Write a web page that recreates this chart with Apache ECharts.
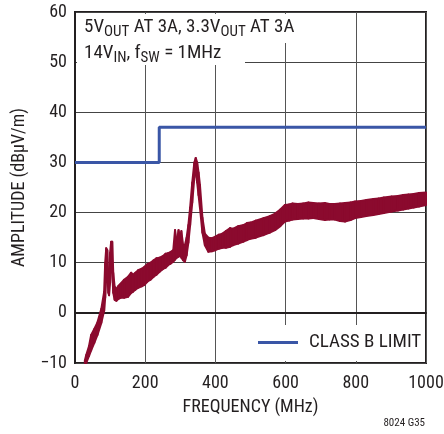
<!DOCTYPE html>
<html>
<head>
<meta charset="utf-8">
<script src="https://cdn.jsdelivr.net/npm/echarts@6.0.0/dist/echarts.min.js"></script>
<style>
  html, body { margin: 0; padding: 0; background: #fff; }
  #chart { width: 444px; height: 434px; }
</style>
</head>
<body>
<div id="chart"></div>
<script>
/* axis ticks */
var xTicks = [0, 200, 400, 600, 800, 1000];
var yTicks = [-10, 0, 10, 20, 30, 40, 50, 60];

/* CISPR class B limit */
var limitFreq = [0, 240, 240, 1000];
var limitAmp = [30, 30, 37, 37];

/* measured emissions: the trace is a thick noisy band, so keep its lower and upper edge */
var freqMHz = [28, 32, 40, 46, 55, 64, 75, 83, 86, 89, 92, 95, 97, 100, 103, 106, 109, 113, 118, 124,
    130, 140, 151, 160, 165, 172, 180, 190, 198, 206, 215, 224, 232, 241, 250, 258, 265, 272, 280, 285,
    290, 295, 300, 303, 308, 313, 318, 323, 328, 334, 340, 344, 348, 352, 356, 363, 370, 380, 390, 400,
    410, 420, 430, 442, 451, 465, 480, 490, 500, 515, 537, 555, 570, 585, 598, 610, 620, 635, 650, 665,
    679, 695, 712, 725, 740, 755, 769, 785, 798, 815, 830, 850, 865, 880, 902, 920, 935, 950, 965, 980, 1000];
var emLower = [-10, -10, -8.6, -7.5, -6.0, -4.4, -2.0, 0.4, 3.0, 7.0, 8.0, 4.0, 3.5, 6.0, 9.0, 8.0, 4.0, 2.6, 2.4, 2.8,
    3.0, 3.0, 3.2, 4.0, 4.2, 4.6, 5.0, 5.3, 5.6, 6.2, 6.6, 7.2, 7.6, 8.2, 8.7, 9.0, 9.5, 9.8, 10.2, 10.6,
    11.0, 11.2, 11.5, 11.0, 10.5, 10.2, 11.5, 14.0, 17.5, 22.0, 27.0, 28.0, 26.0, 23.5, 21.0, 16.0, 13.5, 12.2, 12.3, 12.5,
    12.8, 13.0, 13.0, 13.2, 13.5, 13.8, 14.2, 14.5, 14.8, 15.0, 15.5, 16.0, 16.5, 17.3, 18.2, 18.4, 18.6, 18.7, 18.8, 18.8,
    18.9, 18.7, 18.5, 18.6, 18.6, 18.3, 18.2, 18.5, 18.9, 19.1, 19.3, 19.5, 19.7, 19.9, 20.2, 20.4, 20.6, 20.8, 21.0, 21.2, 21.5];
var emUpper = [-9.5, -8.4, -6.6, -4.4, -3.2, -1.9, 0.8, 4.2, 10.0, 12.9, 12.5, 7.0, 6.0, 12.0, 14.2, 14.2, 8.0, 5.2, 4.8, 5.4,
    5.8, 6.6, 7.2, 8.0, 7.6, 8.0, 8.5, 8.8, 9.2, 9.7, 10.0, 10.5, 10.9, 11.0, 11.3, 11.8, 11.9, 12.1, 12.5, 16.5,
    14.0, 16.5, 15.0, 16.3, 13.5, 13.5, 15.0, 17.5, 21.0, 26.0, 30.0, 30.9, 30.0, 28.0, 25.5, 19.0, 15.8, 15.0, 14.9, 15.2,
    15.6, 15.8, 16.3, 16.9, 16.8, 17.3, 17.5, 17.9, 18.0, 18.4, 18.9, 19.3, 19.8, 20.6, 21.5, 21.6, 21.8, 21.7, 21.8, 22.0,
    21.9, 21.8, 21.9, 21.7, 21.7, 21.8, 21.9, 22.0, 22.2, 22.3, 22.5, 22.7, 22.8, 23.0, 23.2, 23.3, 23.5, 23.6, 23.7, 23.9, 24.0];

var FONT = '"Roboto Condensed", "Liberation Sans Narrow", Roboto, sans-serif';
var TXT = '#231f20';
var EM_COLOR = '#8b0a2e';

function pairs(xs, ys) {
    var out = [];
    for (var i = 0; i < xs.length; i++) {
        out.push([xs[i], ys[i]]);
    }
    return out;
}

var bandRows = [];
for (var i = 0; i < freqMHz.length; i++) {
    bandRows.push([freqMHz[i], emLower[i], emUpper[i]]);
}

/* each segment of the band is a quad between the lower and upper edge */
function renderBand(params, api) {
    var i = params.dataIndex;
    if (i == 0) {
        return null;
    }
    var pts = [
        api.coord([freqMHz[i - 1], emLower[i - 1]]),
        api.coord([freqMHz[i], emLower[i]]),
        api.coord([freqMHz[i], emUpper[i]]),
        api.coord([freqMHz[i - 1], emUpper[i - 1]])
    ];
    return {
        type: 'polygon',
        shape: {points: pts},
        style: {fill: EM_COLOR, stroke: EM_COLOR, lineWidth: 2, lineJoin: 'round'}
    };
}

var myChart = echarts.init(document.getElementById('chart'), null, {renderer: 'canvas'});

var option = {
    animation: false,
    backgroundColor: '#fff',
    grid: {
        left: 75, right: 18, top: 12, bottom: 71,
        outerBoundsMode: 'none',
        containLabel: false,
        show: true, borderColor: '#231f20', borderWidth: 2, backgroundColor: 'transparent'
    },
    title: {
        left: 84, top: 14, padding: 0,
        text: '{m|5V}{s|OUT}{m| AT 3A, 3.3V}{s|OUT}{m| AT 3A}\n{m|14V}{s|IN}{m|, f}{s|SW}{m| = 1MHz}',
        textStyle: {
            fontFamily: FONT, fontSize: 19, fontWeight: 'normal', color: TXT, lineHeight: 26,
            rich: {
                m: {fontFamily: FONT, fontSize: 19, color: TXT, lineHeight: 26, verticalAlign: 'middle'},
                s: {fontFamily: FONT, fontSize: 15, color: TXT, lineHeight: 22, verticalAlign: 'bottom'}
            }
        }
    },
    legend: {
        data: ['CLASS B LIMIT'],
        left: 258, top: 333, padding: 0,
        icon: 'rect', itemWidth: 40, itemHeight: 3,
        textStyle: {fontFamily: FONT, fontSize: 19, color: TXT, padding: [0, 0, 0, 6]}
    },
    xAxis: {
        type: 'value', min: 0, max: 1000, interval: 200,
        name: 'FREQUENCY (MHz)', nameLocation: 'middle', nameGap: 35,
        nameTextStyle: {fontFamily: FONT, fontSize: 18, color: TXT},
        axisLine: {show: true, lineStyle: {color: '#231f20', width: 2}},
        axisTick: {show: false},
        axisLabel: {
            fontFamily: FONT, fontSize: 18, color: TXT, margin: 11,
            formatter: function (v) { return String(v); }
        },
        splitLine: {show: true, lineStyle: {color: '#555', width: 1}}
    },
    yAxis: {
        type: 'value', min: -10, max: 60, interval: 10,
        name: 'AMPLITUDE (dBµV/m)', nameLocation: 'middle', nameGap: 47,
        nameTextStyle: {fontFamily: FONT, fontSize: 18, color: TXT},
        axisLine: {show: true, lineStyle: {color: '#231f20', width: 2}},
        axisTick: {show: false},
        axisLabel: {
            fontFamily: FONT, fontSize: 18, color: TXT, margin: 8,
            formatter: function (v) { return String(v).replace('-', '\u2212'); }
        },
        splitLine: {show: true, lineStyle: {color: '#444', width: 1}}
    },
    graphic: [
        /* white boxes behind the annotations hide the grid */
        {type: 'rect', z: 1, shape: {x: 77, y: 14, width: 168, height: 51}, style: {fill: '#fff'}},
        {type: 'rect', z: 1, shape: {x: 77, y: 14, width: 223, height: 29}, style: {fill: '#fff'}},
        {type: 'rect', z: 1, shape: {x: 250, y: 325, width: 174, height: 36}, style: {fill: '#fff'}},
        {type: 'text', z: 1, right: 19, top: 418,
            style: {text: '8024 G35', font: '11px ' + FONT, fill: TXT}}
    ],
    series: [
        {
            name: 'CLASS B LIMIT',
            type: 'line',
            data: pairs(limitFreq, limitAmp),
            showSymbol: false,
            color: '#3a56a6',
            lineStyle: {color: '#3a56a6', width: 3},
            z: 3
        },
        {
            name: 'EMISSIONS',
            type: 'custom',
            renderItem: renderBand,
            data: bandRows,
            encode: {x: 0, y: [1, 2]},
            color: EM_COLOR,
            z: 4
        }
    ]
};

myChart.setOption(option);
</script>
</body>
</html>
